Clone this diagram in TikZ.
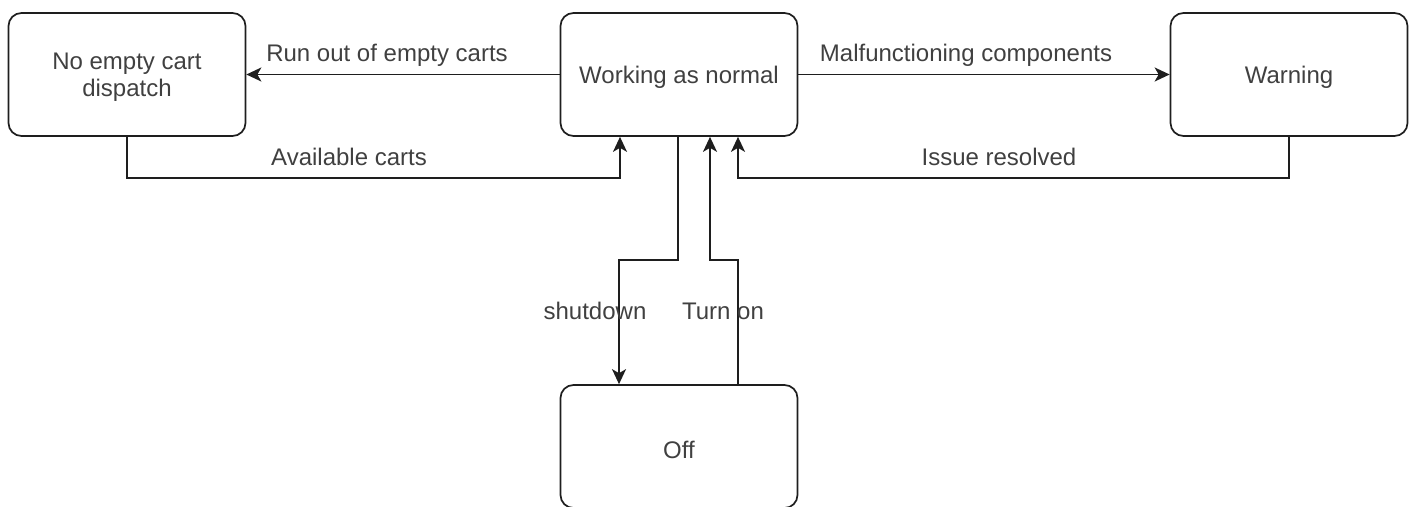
\documentclass[tikz,border=0pt]{standalone}
\usepackage{fontspec}
\setmainfont{Liberation Sans}
\usetikzlibrary{arrows.meta,calc}
\definecolor{txt}{HTML}{404040}
\definecolor{ln}{HTML}{1E1E1E}
\newcommand{\lowtxt}[1]{\raisebox{-3pt}[\height][\depth]{#1}}
\tikzset{
 state/.style={draw=ln, line width=1.7pt, rounded corners=13pt, minimum width=237pt, minimum height=123pt, text=txt, font=\fontsize{24}{28}\selectfont, align=center, inner sep=0pt},
 conn/.style={draw=ln, line width=1.7pt, -{Stealth[length=15pt,width=14pt,inset=4pt]}},
 lbl/.style={text=txt, font=\fontsize{24}{28}\selectfont, inner sep=0pt},
}
\begin{document}
\begin{tikzpicture}[x=1pt,y=-1pt]
\useasboundingbox (0,0) rectangle (1413,506);
\node[state] (nd) at (127,74.5) {\lowtxt{\begin{tabular}{@{}c@{}}No empty cart\\[-1pt]dispatch\end{tabular}}};
\node[state] (wn) at (679,74.5) {\lowtxt{Working as normal}};
\node[state] (wr) at (1289,74.5) {\lowtxt{Warning}};
\node[state] (off) at (679,446.5) {\lowtxt{Off}};
\coordinate (a1) at (620,178);
\coordinate (b1) at (738,178);
\coordinate (s1) at (678,260);
\coordinate (s2) at (619,260);
\coordinate (t1) at (738,260);
\coordinate (t2) at (710,260);
\draw[conn] (wn.west) -- (nd.east);
\draw[conn] (wn.east) -- (wr.west);
\draw[conn] (nd.south) |- (a1) -- (a1 |- wn.south);
\draw[conn] (wr.south) |- (b1) -- (b1 |- wn.south);
\draw[conn] (s1 |- wn.south) -- (s1) -- (s2) -- (s2 |- off.north);
\draw[conn] (t1 |- off.north) -- (t1) -- (t2) -- (t2 |- wn.south);
\node[lbl] (l1) at (387,55) {Run out of empty carts};
\node[lbl] (l2) at (966,55) {Malfunctioning components};
\node[lbl] (l3) at (349,157) {Available carts};
\node[lbl] (l4) at (999,157) {Issue resolved};
\node[lbl] (l5) at (595,311) {shutdown};
\node[lbl] (l6) at (723,311) {Turn on};
\end{tikzpicture}
\end{document}
